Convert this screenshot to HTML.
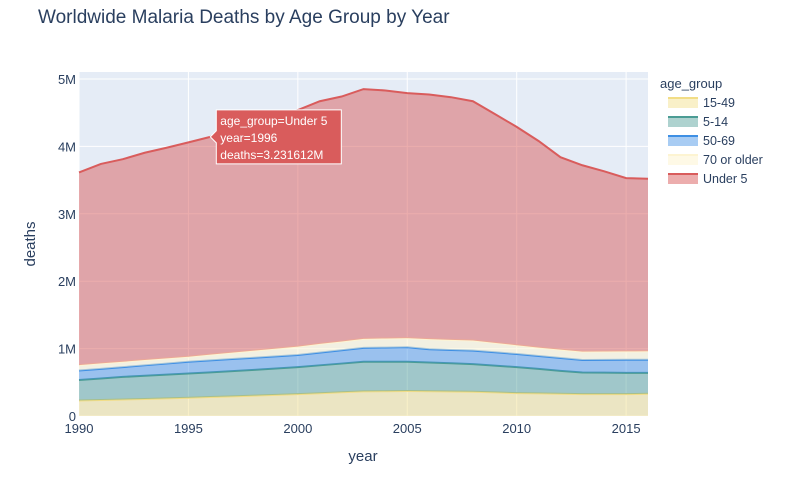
<!DOCTYPE html>
<html><head><meta charset="utf-8"><style>
body{margin:0;background:#fff;font-family:"Liberation Sans",sans-serif}
svg text{font-family:"Liberation Sans",sans-serif}
</style></head><body>
<svg id="c" width="799" height="472" xmlns="http://www.w3.org/2000/svg">
<text x="38" y="23" font-size="19" fill="#2a3f5f">Worldwide Malaria Deaths by Age Group by Year</text>
<rect x="79" y="72" width="569" height="344" fill="#e5ecf6"/>
<g id="grid"></g><g id="areas"></g><g id="axes"></g><g id="legend"></g><g id="tip"></g>
<text x="363" y="461" font-size="15" fill="#2a3f5f" text-anchor="middle">year</text>
<text transform="translate(35,244) rotate(-90)" font-size="15" fill="#2a3f5f" text-anchor="middle">deaths</text>
</svg>
<script>
const years=[1990,1991,1992,1993,1994,1995,1996,1997,1998,1999,2000,2001,2002,2003,2004,2005,2006,2007,2008,2009,2010,2011,2012,2013,2014,2015,2016];
const groupNames=["15-49","5-14","50-69","70 or older","Under 5"];
const deaths1549=[.23,.237,.245,.253,.262,.27,.281,.292,.303,.314,.325,.338,.352,.365,.368,.37,.367,.363,.36,.35,.34,.335,.33,.325,.325,.325,.33];
const deaths514=[.305,.32,.335,.344,.351,.36,.366,.373,.382,.391,.4,.414,.426,.44,.437,.435,.426,.419,.41,.398,.385,.365,.34,.32,.318,.315,.31];
const deaths5069=[.14,.143,.145,.155,.165,.175,.178,.18,.18,.18,.18,.188,.197,.205,.21,.215,.197,.198,.2,.197,.195,.19,.19,.185,.189,.194,.195];
const deaths70=[.08,.08,.08,.078,.077,.075,.085,.095,.105,.115,.125,.13,.13,.135,.135,.135,.15,.15,.15,.14,.13,.125,.125,.125,.125,.124,.125];
const deathsU5=[2.859,2.96,3.005,3.076,3.125,3.18,3.231612,3.28,3.35,3.43,3.51,3.6,3.635,3.705,3.68,3.635,3.63,3.6,3.55,3.395,3.24,3.065,2.855,2.765,2.673,2.572,2.56];
const xTicks=[1990,1995,2000,2005,2010,2015];
const yTicks=[0,1,2,3,4,5];
const yTickLabels=["0","1M","2M","3M","4M","5M"];
const NS="http://www.w3.org/2000/svg";
const L=79,R=648,T=72,B=416;
const x=v=>L+(v-1990)*(R-L)/26;
const y=v=>B-v*67.4;
function mk(t,a,p){const e=document.createElementNS(NS,t);for(const k in a)e.setAttribute(k,a[k]);p.appendChild(e);return e;}
const series=[deaths1549,deaths514,deaths5069,deaths70,deathsU5];
const lines=["#f2dd86","#4b9c94","#3e8fe4","#fdf4d2","#d95c5c"];
const fills=["rgba(242,221,134,0.45)","rgba(75,156,148,0.45)","rgba(62,143,228,0.45)","rgba(253,244,210,0.55)","rgba(217,92,92,0.5)"];
const grid=document.getElementById('grid'),areas=document.getElementById('areas'),axes=document.getElementById('axes');
xTicks.forEach(t=>{const g=mk('line',{x1:x(t),x2:x(t),y1:T,y2:B,stroke:'#fff','stroke-width':1},grid);

const tx=mk('text',{x:x(t),y:B+17,'font-size':13,fill:'#2a3f5f','text-anchor':'middle'},axes);tx.textContent=t;
});
yTicks.forEach((t,i)=>{const g=mk('line',{x1:L,x2:R,y1:y(t),y2:y(t),stroke:'#fff','stroke-width':1},grid);

const tx=mk('text',{x:L-3,y:y(t)+5,'font-size':13,fill:'#2a3f5f','text-anchor':'end'},axes);tx.textContent=yTickLabels[i];
});
let base=years.map(()=>0);
series.forEach((s,si)=>{const top=base.map((b,i)=>b+s[i]);
let d=years.map((yr,i)=>(i?'L':'M')+x(yr)+','+y(top[i])).join('');
for(let i=years.length-1;i>=0;i--)d+='L'+x(years[i])+','+y(base[i]);d+='Z';
const a=mk('path',{d:d,fill:fills[si],stroke:'none'},areas);

const ln=mk('polyline',{points:years.map((yr,i)=>x(yr)+','+y(top[i])).join(' '),fill:'none',stroke:lines[si],'stroke-width':2},areas);

base=top;});
const lg=document.getElementById('legend');
const lt=mk('text',{x:660,y:88,'font-size':13,fill:'#2a3f5f'},lg);lt.textContent='age_group';

groupNames.forEach((n,i)=>{const yy=103+i*19;const g=mk('g',{},lg);

mk('rect',{x:668,y:yy-5,width:30,height:10,fill:fills[i]},g);
mk('line',{x1:668,x2:698,y1:yy-5,y2:yy-5,stroke:lines[i],'stroke-width':2},g);
const t=mk('text',{x:703,y:yy+4,'font-size':12.5,fill:'#2a3f5f'},g);t.textContent=n;});
const tip=document.getElementById('tip');const px=x(1996),py=y(deaths1549[6]+deaths514[6]+deaths5069[6]+deaths70[6]+deathsU5[6]);
const tg=mk('g',{},tip);
mk('path',{d:`M${px},${py}L${px+6},${py-6}V${py-27}H${px+131}V${py+27}H${px+6}V${py+6}Z`,fill:'#d95c5c',stroke:'#fff','stroke-width':1},tg);
["age_group=Under 5","year=1996","deaths=3.231612M"].forEach((s,i)=>{const t=mk('text',{x:px+10,y:py-12+i*17,'font-size':12,fill:'#fff'},tg);t.textContent=s;});
</script>
</body></html>
